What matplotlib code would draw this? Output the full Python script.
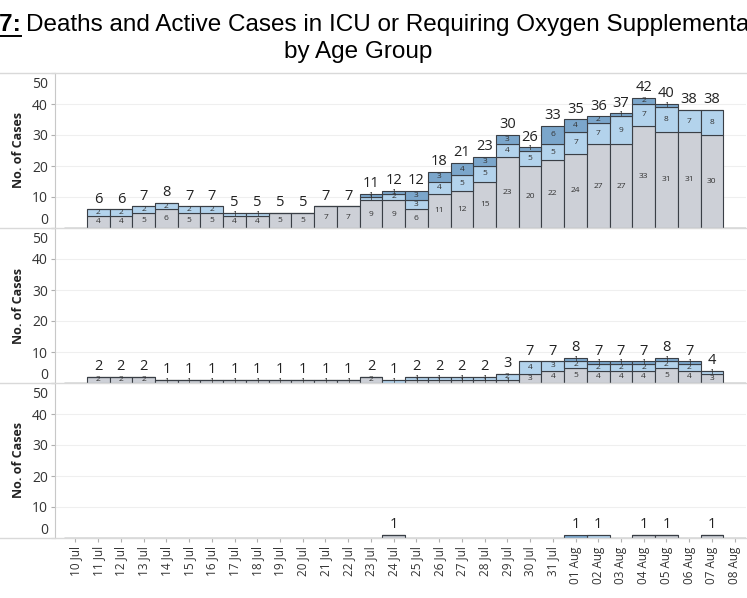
import matplotlib
matplotlib.use("Agg")
import matplotlib.pyplot as plt
import matplotlib.transforms as mtransforms
from matplotlib.lines import Line2D
import numpy as np

dates = ['10 Jul', '11 Jul', '12 Jul', '13 Jul', '14 Jul', '15 Jul', '16 Jul', '17 Jul',
         '18 Jul', '19 Jul', '20 Jul', '21 Jul', '22 Jul', '23 Jul', '24 Jul', '25 Jul',
         '26 Jul', '27 Jul', '28 Jul', '29 Jul', '30 Jul', '31 Jul', '01 Aug', '02 Aug',
         '03 Aug', '04 Aug', '05 Aug', '06 Aug', '07 Aug', '08 Aug']

# Panel 1
p1_grey = [0, 4, 4, 5, 6, 5, 5, 4, 4, 5, 5, 7, 7, 9, 9, 6, 11, 12, 15, 23, 20, 22, 24, 27, 27, 33, 31, 31, 30, 0]
p1_light = [0, 2, 2, 2, 2, 2, 2, 1, 1, 0, 0, 0, 0, 1, 2, 3, 4, 5, 5, 4, 5, 5, 7, 7, 9, 7, 8, 7, 8, 0]
p1_mid = [0, 0, 0, 0, 0, 0, 0, 0, 0, 0, 0, 0, 0, 1, 1, 3, 3, 4, 3, 3, 1, 6, 4, 2, 1, 2, 1, 0, 0, 0]
# Panel 2
p2_grey = [0, 2, 2, 2, 1, 1, 1, 1, 1, 1, 1, 1, 1, 2, 0, 1, 1, 1, 1, 1, 3, 4, 5, 4, 4, 4, 5, 4, 3, 0]
p2_light = [0, 0, 0, 0, 0, 0, 0, 0, 0, 0, 0, 0, 0, 0, 1, 1, 1, 1, 1, 2, 4, 3, 2, 2, 2, 2, 2, 2, 1, 0]
p2_mid = [0, 0, 0, 0, 0, 0, 0, 0, 0, 0, 0, 0, 0, 0, 0, 0, 0, 0, 0, 0, 0, 0, 1, 1, 1, 1, 1, 1, 0, 0]
# Panel 3
p3_grey = [0, 0, 0, 0, 0, 0, 0, 0, 0, 0, 0, 0, 0, 0, 1, 0, 0, 0, 0, 0, 0, 0, 0, 0, 0, 1, 1, 0, 1, 0]
p3_light = [0, 0, 0, 0, 0, 0, 0, 0, 0, 0, 0, 0, 0, 0, 0, 0, 0, 0, 0, 0, 0, 0, 0, 1, 0, 0, 0, 0, 0, 0]
p3_mid = [0, 0, 0, 0, 0, 0, 0, 0, 0, 0, 0, 0, 0, 0, 0, 0, 0, 0, 0, 0, 0, 0, 1, 0, 0, 0, 0, 0, 0, 0]

yticks = [0, 10, 20, 30, 40, 50]

panels = [(p1_grey, p1_light, p1_mid, True),
          (p2_grey, p2_light, p2_mid, True),
          (p3_grey, p3_light, p3_mid, False)]

C_GREY = '#cdd0d7'
C_LIGHT = '#b3d3ec'
C_MID = '#7ba6cb'
EDGE = '#3a3f46'
TXT = '#333333'
FONT = 'Open Sans'

W, H = 747, 598
fig = plt.figure(figsize=(W / 100, H / 100), dpi=100)

left = 55 / W
right = 746 / W
tops = [73, 228, 383]
ph = 155

x = np.arange(len(dates))
axes = []
for i, (g, l, m, seglabels) in enumerate(panels):
    top = tops[i]
    ax = fig.add_axes([left, 1 - (top + ph) / H, right - left, ph / H])
    axes.append(ax)
    g = np.array(g); l = np.array(l); m = np.array(m)
    for vals, bottom, col in [(g, 0, C_GREY), (l, g, C_LIGHT), (m, g + l, C_MID)]:
        ax.bar(x, vals, bottom=bottom, width=1.0, color=col, edgecolor=EDGE,
               linewidth=0.8, zorder=3)
        if seglabels:
            for xi, v, b in zip(x, vals, np.zeros_like(vals) + bottom):
                if v > 0:
                    ax.text(xi, b + v / 2, str(v), ha='center', va='center',
                            fontsize=6, color=TXT, family=FONT, zorder=5)
    tot = g + l + m
    for xi, t in zip(x, tot):
        if t > 0:
            ax.annotate(str(t), (xi, t), xytext=(0, 2), textcoords='offset points',
                        ha='center', va='bottom', fontsize=10.5, color='#222222',
                        family=FONT, zorder=6)
    ax.set_xlim(-0.9, 29.5)
    ax.set_ylim(0, 50)
    ax.set_yticks(yticks)
    ax.set_yticklabels([str(v) for v in yticks], family=FONT, fontsize=10, color=TXT)
    ax.tick_params(axis='y', length=3, width=0.8, color='#b0b0b0', pad=2)
    for v in [10, 20, 30, 40]:
        ax.axhline(v, color='#efefef', linewidth=0.8, zorder=0)
    for s in ['top', 'right', 'bottom']:
        ax.spines[s].set_visible(False)
    ax.spines['left'].set_color('#c8c8c8')
    ax.spines['left'].set_linewidth(0.8)
    ax.set_ylabel('No. of Cases', family=FONT, fontsize=9, fontweight='bold',
                  color='#222222', labelpad=5)
    # nudge the 0 and 50 labels inward like the reference
    labs = ax.get_yticklabels()
    labs[0].set_transform(labs[0].get_transform() +
                          mtransforms.ScaledTranslation(0, 7 / 72, fig.dpi_scale_trans))
    labs[-1].set_transform(labs[-1].get_transform() +
                           mtransforms.ScaledTranslation(0, -7 / 72, fig.dpi_scale_trans))
    if i < 2:
        ax.set_xticks(x)
        ax.tick_params(axis='x', bottom=False, labelbottom=False)
    else:
        ax.set_xticks(x)
        ax.set_xticklabels(dates, rotation=90, family=FONT, fontsize=8.5, color=TXT)
        ax.tick_params(axis='x', length=3, width=0.8, color='#b0b0b0', pad=3)

# horizontal separators spanning the whole width
for yy in [73, 228, 383, 538]:
    fig.add_artist(Line2D([0, 1], [1 - yy / H, 1 - yy / H], color='#d9d9d9',
                          linewidth=1.0, transform=fig.transFigure))

# title
TFS = 17.5
t1 = fig.text(21 / W, 1 - 25 / H, 'Figure 7:', ha='right', va='center', fontsize=TFS,
              fontweight='bold', family='Liberation Sans', color='black')
fig.text(26 / W, 1 - 25 / H,
         'Deaths and Active Cases in ICU or Requiring Oxygen Supplementation',
         ha='left', va='center', fontsize=TFS, family='Liberation Sans', color='black')
fig.text(358 / W, 1 - 52 / H, 'by Age Group', ha='center', va='center', fontsize=TFS,
         family='Liberation Sans', color='black')
fig.canvas.draw()
bb = t1.get_window_extent()
fig.add_artist(Line2D([bb.x0 / W, bb.x1 / W], [(bb.y0 + 1) / H, (bb.y0 + 1) / H],
                      color='black', linewidth=1.4, transform=fig.transFigure))

fig.savefig('out.png', dpi=100)
